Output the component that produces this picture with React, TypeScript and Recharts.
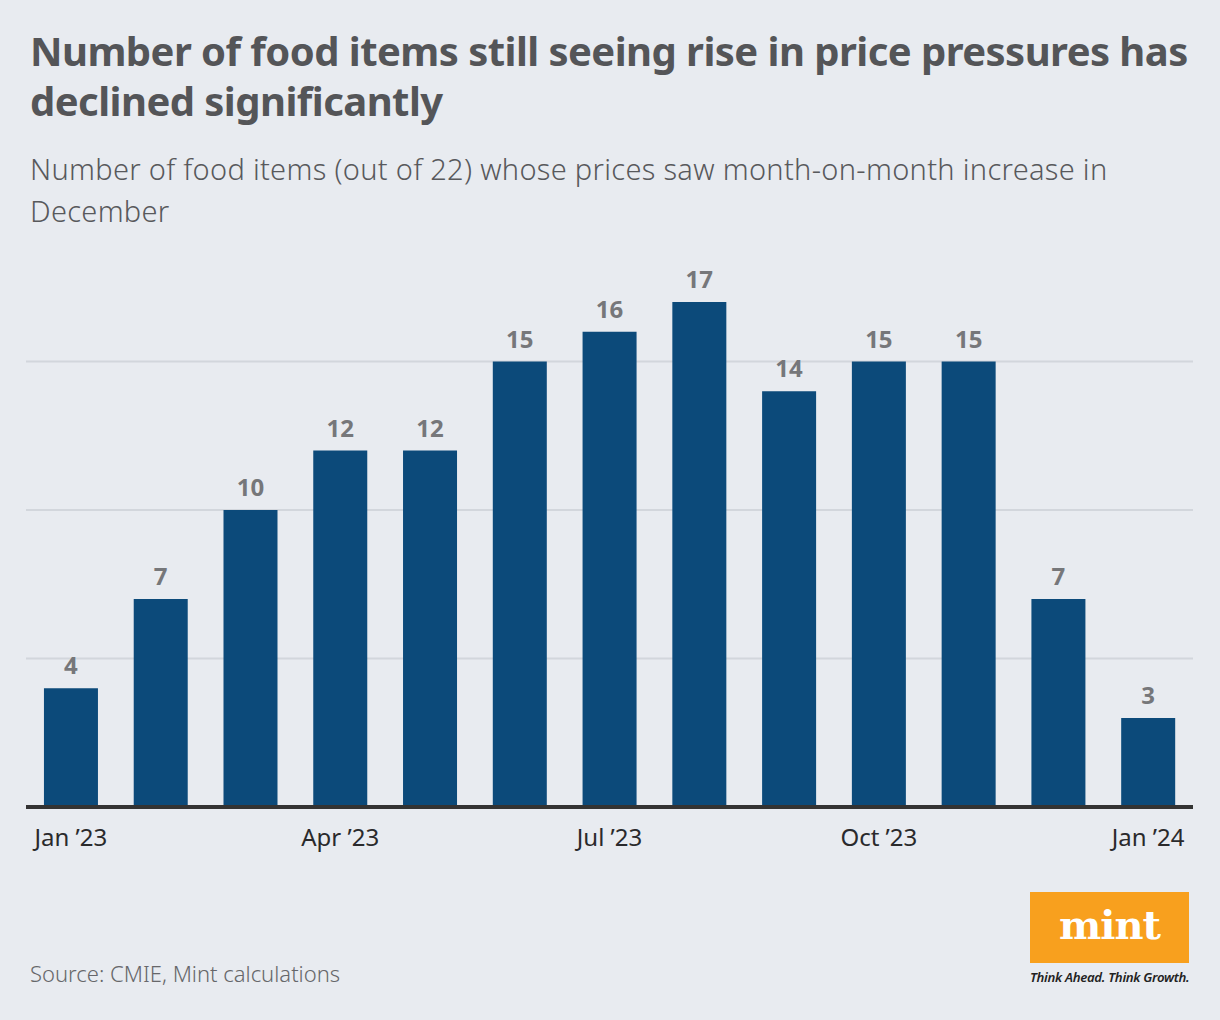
import { Bar, BarChart, CartesianGrid, LabelList, XAxis, YAxis } from "recharts";

// meses (eje x) y numero de alimentos con subida mensual
const months = [
  "Jan ’23", "Feb ’23", "Mar ’23", "Apr ’23", "May ’23", "Jun ’23", "Jul ’23",
  "Aug ’23", "Sep ’23", "Oct ’23", "Nov ’23", "Dec ’23", "Jan ’24",
];
const items = [4, 7, 10, 12, 12, 15, 16, 17, 14, 15, 15, 7, 3];
const gridValues = [5, 10, 15];

const FONT = "'Noto Sans', 'Open Sans', sans-serif";

const data = months.map((m, i) => ({ month: m, value: items[i] }));

export default function App() {
  return (
    <div
      style={{
        position: "absolute",
        left: 0,
        top: 0,
        width: 1220,
        height: 1020,
        background: "#e8ebf0",
        fontFamily: FONT,
        overflow: "hidden",
      }}
    >
      <div
        style={{
          position: "absolute",
          left: 30,
          top: 26,
          width: 1180,
          fontSize: 40,
          fontWeight: 700,
          lineHeight: "50px",
          color: "#545558",
          letterSpacing: -0.55,
        }}
      >
        Number of food items still seeing rise in price pressures has declined significantly
      </div>
      <div
        style={{
          position: "absolute",
          left: 30,
          top: 148,
          width: 1130,
          fontSize: 29,
          fontWeight: 300,
          lineHeight: "42px",
          color: "#58595c",
          letterSpacing: 0.3,
        }}
      >
        Number of food items (out of 22) whose prices saw month-on-month increase in December
      </div>

      <div style={{ position: "absolute", left: 0, top: 0 }}>
        <BarChart
          width={1220}
          height={880}
          data={data}
          margin={{ top: 213, right: 27, left: 26, bottom: 13 }}
          barCategoryGap="20%"
        >
          <CartesianGrid
            vertical={false}
            horizontalValues={gridValues}
            stroke="#d2d6dc"
            strokeWidth={2}
          />
          <YAxis hide domain={[0, 20]} ticks={[0, ...gridValues]} />
          <XAxis
            dataKey="month"
            height={60}
            interval={2}
            tickLine={false}
            tickMargin={16}
            axisLine={{ stroke: "#333333", strokeWidth: 4 }}
            tick={{ fill: "#2a2a2c", fontSize: 24, fontFamily: FONT }}
          />
          <Bar dataKey="value" fill="#0c4a7a" isAnimationActive={false}>
            <LabelList
              dataKey="value"
              position="top"
              offset={14}
              fill="#76777a"
              fontSize={24}
              fontWeight={700}
              fontFamily={FONT}
            />
          </Bar>
        </BarChart>
      </div>

      <div
        style={{
          position: "absolute",
          left: 30,
          top: 958,
          fontSize: 22,
          color: "#66676a",
          fontWeight: 300,
        }}
      >
        Source: CMIE, Mint calculations
      </div>

      <div
        style={{
          position: "absolute",
          left: 1030,
          top: 892,
          width: 159,
          height: 71,
          background: "#f8a01e",
          color: "#ffffff",
          fontFamily: "'DejaVu Serif', 'Liberation Serif', serif",
          fontWeight: 700,
          fontSize: 40,
          lineHeight: "66px",
          textAlign: "center",
          letterSpacing: -1,
        }}
      >
        mint
      </div>
      <div
        style={{
          position: "absolute",
          left: 1030,
          top: 968,
          width: 162,
          fontSize: 13.2,
          fontStyle: "italic",
          fontWeight: 600,
          color: "#222",
          letterSpacing: -0.3,
          whiteSpace: "nowrap",
        }}
      >
        Think Ahead. Think Growth.
      </div>
    </div>
  );
}
